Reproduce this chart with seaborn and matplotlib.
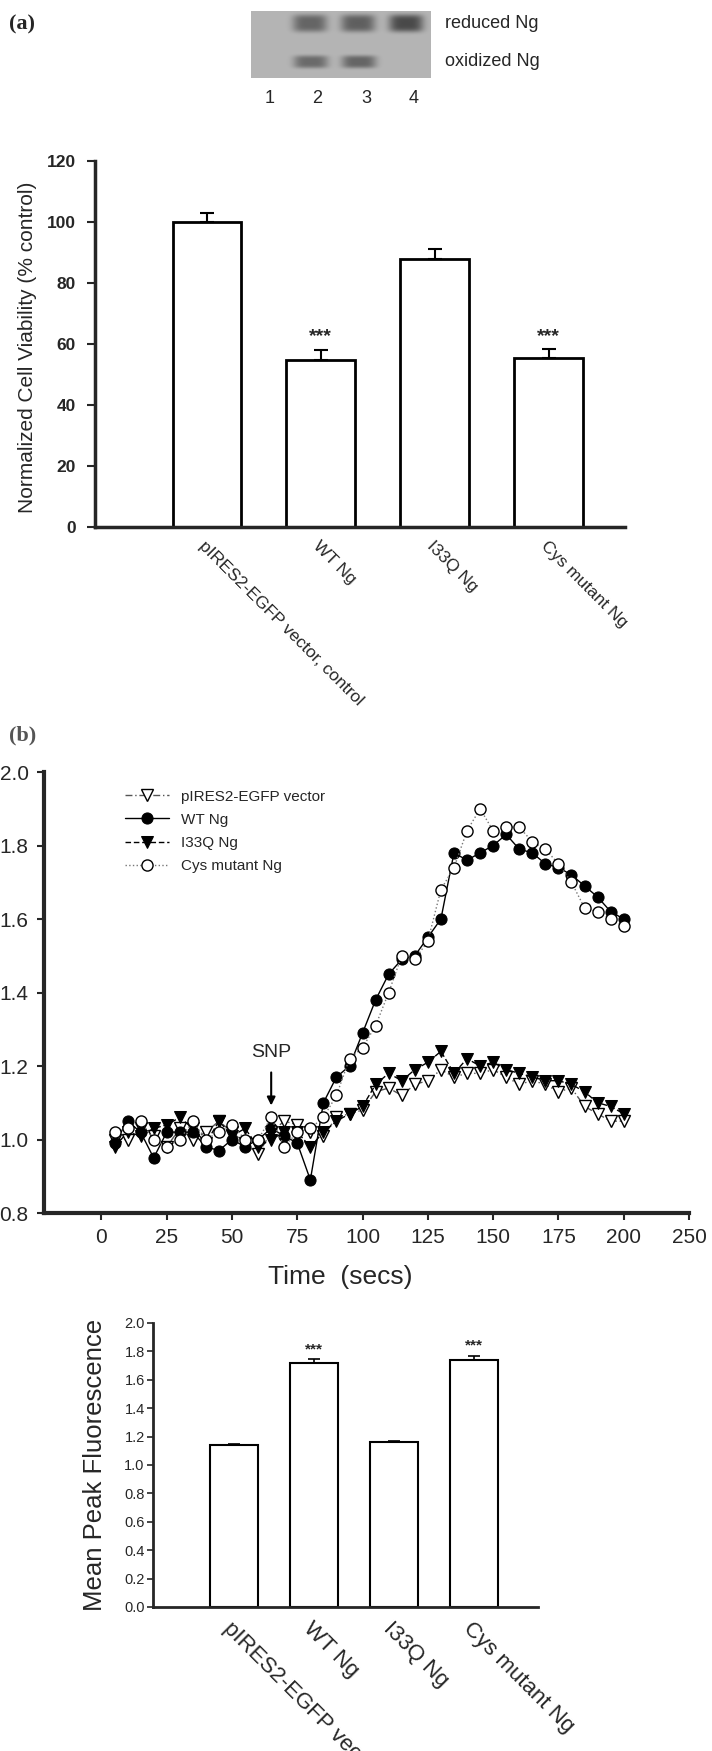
import numpy as np
import pandas as pd
import matplotlib
matplotlib.use("Agg")
import matplotlib.pyplot as plt
import seaborn as sns

# ---- data ----
blot_lanes = [1, 2, 3, 4]
reduced_band = [0.0, 0.75, 0.8, 1.0]
oxidized_band = [0.0, 0.7, 0.75, 0.0]

groups_a = ["pIRES2-EGFP vector, control", "WT Ng", "I33Q Ng", "Cys mutant Ng"]
viability = [100, 54.8, 88, 55.5]
viability_err = [3.0, 3.2, 3.0, 2.7]
viability_sig = ["", "***", "", "***"]

time = [5, 10, 15, 20, 25, 30, 35, 40, 45, 50, 55, 60, 65, 70, 75, 80, 85, 90, 95, 100,
        105, 110, 115, 120, 125, 130, 135, 140, 145, 150, 155, 160, 165, 170, 175, 180,
        185, 190, 195, 200]
pires = [1.00, 1.00, 1.03, 1.01, 0.98, 1.03, 1.00, 1.02, 1.05, 1.02, 0.99, 0.96, 1.02, 1.05,
         1.04, 1.02, 1.01, 1.06, 1.07, 1.08, 1.13, 1.14, 1.12, 1.15, 1.16, 1.19, 1.17, 1.18,
         1.18, 1.19, 1.17, 1.15, 1.16, 1.15, 1.13, 1.14, 1.09, 1.07, 1.05, 1.05]
wt = [0.99, 1.05, 1.02, 0.95, 1.02, 1.02, 1.02, 0.98, 0.97, 1.00, 0.98, 1.00, 1.03, 1.01,
      0.99, 0.89, 1.10, 1.17, 1.20, 1.29, 1.38, 1.45, 1.49, 1.50, 1.55, 1.60, 1.78, 1.76,
      1.78, 1.80, 1.83, 1.79, 1.78, 1.75, 1.74, 1.72, 1.69, 1.66, 1.62, 1.60]
i33q = [0.98, 1.02, 1.01, 1.03, 1.04, 1.06, 1.03, 0.99, 1.05, 1.01, 1.03, 0.98, 1.00, 1.02,
        1.02, 0.98, 1.02, 1.05, 1.07, 1.09, 1.15, 1.18, 1.16, 1.19, 1.21, 1.24, 1.18, 1.22,
        1.20, 1.21, 1.19, 1.18, 1.17, 1.16, 1.16, 1.15, 1.13, 1.10, 1.09, 1.07]
cys = [1.02, 1.03, 1.05, 1.00, 0.98, 1.00, 1.05, 1.00, 1.02, 1.04, 1.00, 1.00, 1.06, 0.98,
       1.02, 1.03, 1.06, 1.12, 1.22, 1.25, 1.31, 1.40, 1.50, 1.49, 1.54, 1.68, 1.74, 1.84,
       1.90, 1.84, 1.85, 1.85, 1.81, 1.79, 1.75, 1.70, 1.63, 1.62, 1.60, 1.58]
time_ticks = [0, 25, 50, 75, 100, 125, 150, 175, 200, 225]
time_tick_labels = ["0", "25", "50", "75", "100", "125", "150", "175", "200", "250"]
snp_time = 65

groups_c = ["pIRES2-EGFP vector", "WT Ng", "I33Q Ng", "Cys mutant Ng"]
peak = [1.14, 1.72, 1.16, 1.74]
peak_err = [0.01, 0.025, 0.01, 0.03]
peak_sig = ["", "***", "", "***"]

sns.set_style("ticks")
plt.rcParams['font.family'] = ['Liberation Sans', 'DejaVu Sans']
plt.rcParams['axes.linewidth'] = 2

W, H = 712, 1751
fig = plt.figure(figsize=(W / 100, H / 100), dpi=100)


def box(x0, y0, x1, y1):
    # pixel box (top-left origin) -> figure fraction rect
    return [x0 / W, 1 - y1 / H, (x1 - x0) / W, (y1 - y0) / H]


# ---- panel (a): blot ----
fig.text(9 / W, 1 - 24 / H, "(a)", fontsize=16, fontweight="bold",
         family=["Liberation Serif", "DejaVu Serif"], va="center")
axb = fig.add_axes(box(251, 11, 431, 78))
xs = np.linspace(0.72, 4.45, 360)
ys = np.linspace(0, 1, 134)
X, Y = np.meshgrid(xs, ys)
dark = np.zeros_like(X)
for lane, r, o in zip(blot_lanes, reduced_band, oxidized_band):
    dark += r * np.exp(-(((X - lane + 0.06) / 0.3) ** 4) / 2 - (((Y - 0.18) / 0.11) ** 4) / 2)
    dark += o * np.exp(-(((X - lane + 0.04) / 0.3) ** 4) / 2 - (((Y - 0.76) / 0.08) ** 4) / 2)
img = 0.71 - 0.42 * np.clip(dark, 0, 1)
axb.imshow(img, cmap="gray", vmin=0, vmax=1, aspect="auto",
           extent=[0.72, 4.45, 1, 0], interpolation="bilinear")
axb.set_xlim(0.72, 4.45)
axb.set_ylim(1, 0)
axb.axis("off")
for lane in blot_lanes:
    axb.text(lane + 0.1, 1.3, str(lane), ha="center", va="center", fontsize=13)
axb.text(1.08, 0.82, "reduced Ng", transform=axb.transAxes, fontsize=13, va="center")
axb.text(1.08, 0.25, "oxidized Ng", transform=axb.transAxes, fontsize=13, va="center")

# ---- panel (a): viability bars ----
ax1 = fig.add_axes(box(95, 161, 625, 527))
df_a = pd.DataFrame({"group": groups_a, "value": viability})
sns.barplot(data=df_a, x="group", y="value", ax=ax1, color="white", saturation=1,
            edgecolor="black", linewidth=2, width=0.6, errorbar=None)
ax1.errorbar(range(len(viability)), viability, yerr=[np.zeros(4), viability_err],
             fmt="none", ecolor="black", elinewidth=1.5, capsize=5, capthick=1.5)
for i, s in enumerate(viability_sig):
    if s:
        ax1.text(i, viability[i] + viability_err[i] + 1.5, s, ha="center", va="bottom",
                 fontsize=14, fontweight="bold")
ax1.set_xlim(-0.98, 3.67)
ax1.set_ylim(0, 120)
ax1.set_yticks(range(0, 121, 20))
ax1.tick_params(axis="y", length=6, width=1.5, pad=8, labelsize=12.5)
for t in ax1.get_yticklabels():
    t.set_fontweight("bold")
ax1.tick_params(axis="x", length=0, pad=8)
ax1.set_xticks(range(4))
ax1.set_xticklabels(groups_a, rotation=-45, ha="left", rotation_mode="anchor", fontsize=12.5)
ax1.set_xlabel("")
ax1.set_ylabel("")
for sp in ["top", "right"]:
    ax1.spines[sp].set_visible(False)
ax1.spines["left"].set_linewidth(2.5)
ax1.spines["bottom"].set_linewidth(2.5)
fig.text(28 / W, 1 - 347 / H, "Normalized Cell Viability (% control)", rotation=90,
         ha="center", va="center", fontsize=15)

# ---- panel (b): time course ----
fig.text(9 / W, 1 - 735 / H, "(b)", fontsize=16, fontweight="bold", color="#555555",
         family=["Liberation Serif", "DejaVu Serif"], va="center")
ax2 = fig.add_axes(box(44, 772, 689, 1213))
sns.lineplot(x=time, y=pires, ax=ax2, color="#555555", lw=1, linestyle=(0, (5, 2, 1, 2)),
             marker="v", markersize=8.5, markerfacecolor="white", markeredgecolor="black",
             markeredgewidth=1, label="pIRES2-EGFP vector")
sns.lineplot(x=time, y=wt, ax=ax2, color="black", lw=1, linestyle="-",
             marker="o", markersize=8, markerfacecolor="black", markeredgecolor="black",
             label="WT Ng")
sns.lineplot(x=time, y=i33q, ax=ax2, color="black", lw=1, linestyle=(0, (4, 2)),
             marker="v", markersize=8.5, markerfacecolor="black", markeredgecolor="black",
             label="I33Q Ng")
sns.lineplot(x=time, y=cys, ax=ax2, color="#777777", lw=1, linestyle=":",
             marker="o", markersize=8, markerfacecolor="white", markeredgecolor="black",
             markeredgewidth=1, label="Cys mutant Ng")
ax2.set_xlim(-22, 225)
ax2.set_ylim(0.8, 2.0)
ax2.set_xticks(time_ticks)
ax2.set_xticklabels(time_tick_labels)
ax2.set_yticks(np.arange(0.8, 2.01, 0.2))
ax2.set_yticklabels([f"{v:.1f}" for v in np.arange(0.8, 2.01, 0.2)])
ax2.tick_params(axis="both", length=5, width=1.5, labelsize=15, pad=6)
ax2.set_xlabel("")
ax2.set_ylabel("")
for sp in ["top", "right"]:
    ax2.spines[sp].set_visible(False)
ax2.spines["left"].set_linewidth(3)
ax2.spines["bottom"].set_linewidth(3)
ax2.text(snp_time, 1.236, "SNP", ha="center", va="center", fontsize=14)
ax2.annotate("", xy=(snp_time, 1.085), xytext=(snp_time, 1.19),
             arrowprops=dict(arrowstyle="-|>", color="black", lw=1.5, mutation_scale=12))
ax2.legend(loc="upper left", bbox_to_anchor=(0.125, 0.96), frameon=False, fontsize=11,
           handlelength=2.9, handletextpad=0.8, labelspacing=0.6, borderpad=0,
           borderaxespad=0)
fig.text(340 / W, 1 - 1277 / H, "Time  (secs)", ha="center", va="center", fontsize=19)

# ---- panel (b): mean peak bars ----
ax3 = fig.add_axes(box(153, 1323, 538, 1607))
df_c = pd.DataFrame({"group": groups_c, "value": peak})
sns.barplot(data=df_c, x="group", y="value", ax=ax3, color="white", saturation=1,
            edgecolor="black", linewidth=1.5, width=0.6, errorbar=None)
ax3.errorbar(range(len(peak)), peak, yerr=[np.zeros(4), peak_err], fmt="none",
             ecolor="black", elinewidth=1.2, capsize=4, capthick=1.2)
for i, s in enumerate(peak_sig):
    if s:
        ax3.text(i, peak[i] + peak_err[i] + 0.02, s, ha="center", va="bottom",
                 fontsize=11, fontweight="bold")
ax3.set_xlim(-1.01, 3.8)
ax3.set_ylim(0, 2.0)
ax3.set_yticks(np.arange(0, 2.01, 0.2))
ax3.set_yticklabels([f"{v:.1f}" for v in np.arange(0, 2.01, 0.2)])
ax3.tick_params(axis="y", length=4, width=1.2, pad=2, labelsize=10.5)
ax3.tick_params(axis="x", length=0, pad=8)
ax3.set_xticks(range(4))
ax3.set_xticklabels(groups_c, rotation=-45, ha="left", rotation_mode="anchor", fontsize=16)
ax3.set_xlabel("")
ax3.set_ylabel("")
for sp in ["top", "right"]:
    ax3.spines[sp].set_visible(False)
fig.text(95 / W, 1 - 1465 / H, "Mean Peak Fluorescence", rotation=90, ha="center",
         va="center", fontsize=18.5)

fig.savefig("out.png", dpi=100)
